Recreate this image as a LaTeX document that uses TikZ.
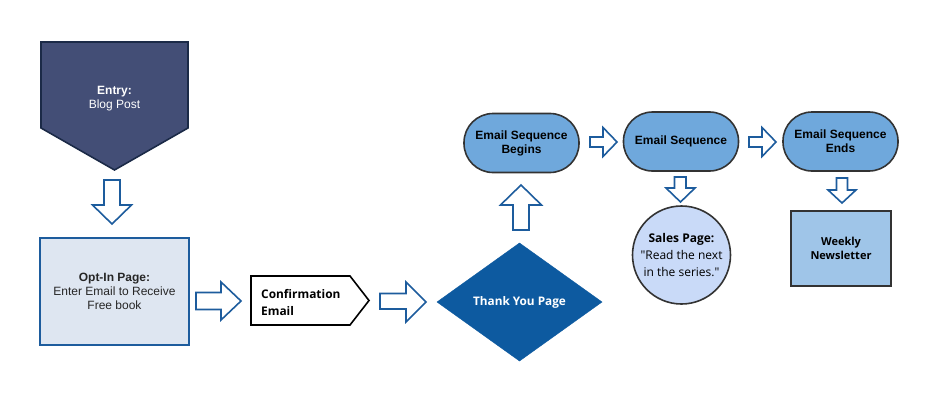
\documentclass[tikz,border=0pt]{standalone}
\usepackage{fontspec}
\setmainfont{Liberation Sans}
\newfontfamily\osans{Open Sans}
\usetikzlibrary{shapes.geometric}
\definecolor{entryfill}{HTML}{434E76}
\definecolor{entrydraw}{HTML}{1B2A47}
\definecolor{optfill}{HTML}{DEE6F1}
\definecolor{blueline}{HTML}{1D5C9D}
\definecolor{diamondfill}{HTML}{0D5AA0}
\definecolor{seqfill}{HTML}{6FA8DC}
\definecolor{darkline}{HTML}{333333}
\definecolor{salesfill}{HTML}{C9DAF8}
\definecolor{weeklyfill}{HTML}{9FC5E8}
\tikzset{
  barrow/.style={draw=blueline, fill=white, line width=1.6pt, line join=miter},
  seqbox/.style={draw=darkline, fill=seqfill, line width=1.6pt, rounded corners=29pt,
    minimum width=115pt, minimum height=59pt, align=center, font=\fontsize{12}{14}\selectfont\bfseries, inner sep=0pt},
  txt/.style={align=center, inner sep=0pt}
}
\begin{document}
\begin{tikzpicture}[x=1pt,y=-1pt]
\useasboundingbox[fill=white] (0,0) rectangle (939,412);
% Entry
\draw[fill=entryfill, draw=entrydraw, line width=1.6pt] (41,42) -- (188,42) -- (188,128) -- (114.5,170) -- (41,128) -- cycle;
\node[txt, text=white, font=\fontsize{12}{14}\selectfont] (entry) at (114.5,98.5) {\textbf{Entry:}\\Blog Post};
% Opt-in
\node[draw=blueline, fill=optfill, line width=1.6pt, minimum width=149pt, minimum height=107pt, inner sep=0pt] (optin) at (114.5,291.5) {};
\node[txt, font=\fontsize{12}{14}\selectfont, text=black!85] (optintext) at (optin.center) {\textbf{Opt-In Page:}\\Enter Email to Receive\\Free book};
% Confirmation
\draw[fill=white, draw=black, line width=1.6pt] (251,276) -- (350,276) -- (369,300.5) -- (350,325) -- (251,325) -- cycle;
\node[align=left, anchor=west, inner sep=0pt, font=\osans\fontsize{11.9}{17}\selectfont\bfseries] (conf) at (261,303) {Confirmation\\Email};
% Thank you diamond
\draw[fill=diamondfill, draw=diamondfill] (437,302) -- (519.5,243) -- (602,302) -- (519.5,361) -- cycle;
\node[txt, text=white, font=\osans\fontsize{11.8}{13}\selectfont\bfseries] (thanks) at (519.5,302) {Thank You Page};
% Email sequences
\node[seqbox] (begins) at (521.5,143) {Email Sequence\\Begins};
\node[seqbox] (seq) at (681,141.5) {Email Sequence};
\node[seqbox] (ends) at (840.5,141.5) {Email Sequence\\Ends};
% Sales page
\node[circle, draw=darkline, fill=salesfill, line width=1.6pt, minimum size=98pt, inner sep=0pt] (sales) at (681.5,255) {};
\node[txt, font=\osans\fontsize{12}{17}\selectfont] (salestext) at (sales.center) {\textbf{Sales Page:}\\"Read the next\\in the series."};
% Weekly newsletter
\node[draw=darkline, fill=weeklyfill, line width=1.6pt, minimum width=100pt, minimum height=75pt, inner sep=0pt] (weekly) at (841,248.5) {};
\node[txt, font=\osans\fontsize{11}{14}\selectfont\bfseries] (weeklytext) at (weekly.center) {Weekly\\Newsletter};
% Block arrows
\draw[barrow] (104,180) -- (120,180) -- (120,205) -- (131.5,205) -- (112,224) -- (92.5,205) -- (104,205) -- cycle;
\draw[barrow] (196,292.5) -- (221,292.5) -- (221,282) -- (241,301) -- (221,320) -- (221,309.5) -- (196,309.5) -- cycle;
\draw[barrow] (380,293.5) -- (406,293.5) -- (406,282) -- (426,302) -- (406,322) -- (406,309) -- (380,309) -- cycle;
\draw[barrow] (513,230) -- (529,230) -- (529,205) -- (541.5,205) -- (521,185) -- (500.5,205) -- (513,205) -- cycle;
\draw[barrow] (590,137) -- (603,137) -- (603,127.5) -- (617,142) -- (603,156.5) -- (603,147) -- (590,147) -- cycle;
\draw[barrow] (749,137) -- (762,137) -- (762,127.5) -- (776,142) -- (762,156.5) -- (762,147) -- (749,147) -- cycle;
\draw[barrow] (674.5,177) -- (686,177) -- (686,188) -- (695,188) -- (680.5,202) -- (666,188) -- (674.5,188) -- cycle;
\draw[barrow] (836.5,178) -- (847.5,178) -- (847.5,190) -- (856,190) -- (842,203) -- (828,190) -- (836.5,190) -- cycle;
\end{tikzpicture}
\end{document}
